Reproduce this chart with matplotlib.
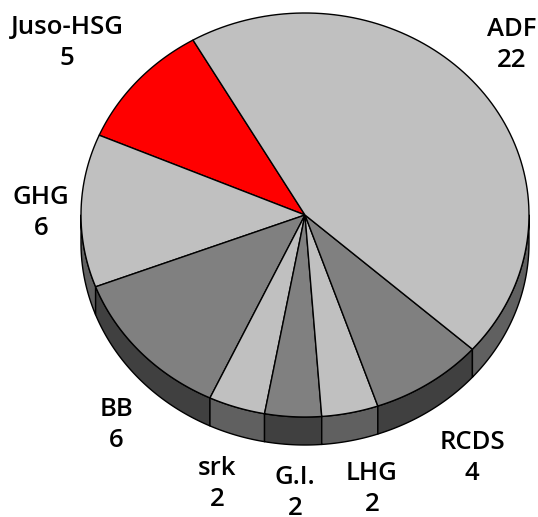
import numpy as np
import matplotlib.pyplot as plt
from matplotlib.patches import Polygon

# Daten (gegen den Uhrzeigersinn, ab Juso-HSG)
labels = ['Juso-HSG', 'GHG', 'BB', 'srk', 'G.I.', 'LHG', 'RCDS', 'ADF']
values = [5, 6, 6, 2, 2, 2, 4, 22]

top_colors = ['#ff0000', '#c0c0c0', '#808080', '#c0c0c0', '#808080', '#c0c0c0', '#808080', '#c0c0c0']
side_colors = ['#800000', '#606060', '#404040', '#606060', '#404040', '#606060', '#404040', '#606060']

# Beschriftungen (Pixel-Mitte im Bild)
label_pos = [(67, 43), (41, 213), (116, 425), (217, 484), (295, 493), (372, 489), (472, 458), (512, 45)]

W, H = 538, 517
cx, cy, scale = 305, 215, 224.0
rx, ry, depth = 1.0, 202 / 224, 28 / 224
start = 120.0

fig = plt.figure(figsize=(W / 100, H / 100), dpi=100)
ax = fig.add_axes([0, 0, 1, 1])
ax.set_xlim(-cx / scale, (W - cx) / scale)
ax.set_ylim(-(H - cy) / scale, cy / scale)
ax.axis('off')

total = sum(values)
angles = start + 360.0 * np.concatenate([[0], np.cumsum(values)]) / total


def arc(t0, t1, dy=0.0):
    t = np.radians(np.linspace(t0, t1, 100))
    return np.column_stack([rx * np.cos(t), ry * np.sin(t) + dy])


# Seitenflaechen (nur vorderer Teil sichtbar)
for i in range(len(values)):
    a0, a1 = angles[i], angles[i + 1]
    for lo, hi in [(180, 360), (540, 720)]:
        s0, s1 = max(a0, lo), min(a1, hi)
        if s1 <= s0:
            continue
        pts = np.vstack([arc(s0, s1), arc(s1, s0, -depth)])
        ax.add_patch(Polygon(pts, closed=True, facecolor=side_colors[i],
                             edgecolor='black', linewidth=1.0, joinstyle='round'))

# Oberseite
for i in range(len(values)):
    pts = np.vstack([[0, 0], arc(angles[i], angles[i + 1])])
    ax.add_patch(Polygon(pts, closed=True, facecolor=top_colors[i],
                         edgecolor='black', linewidth=1.0, joinstyle='round'))

for lab, val, (px, py) in zip(labels, values, label_pos):
    fig.text(px / W, 1 - py / H, f'{lab}\n{val}', ha='center', va='center',
             multialignment='center', fontsize=18.5, fontweight='semibold',
             family='Open Sans', linespacing=1.33)

fig.savefig('out.png', dpi=100)
